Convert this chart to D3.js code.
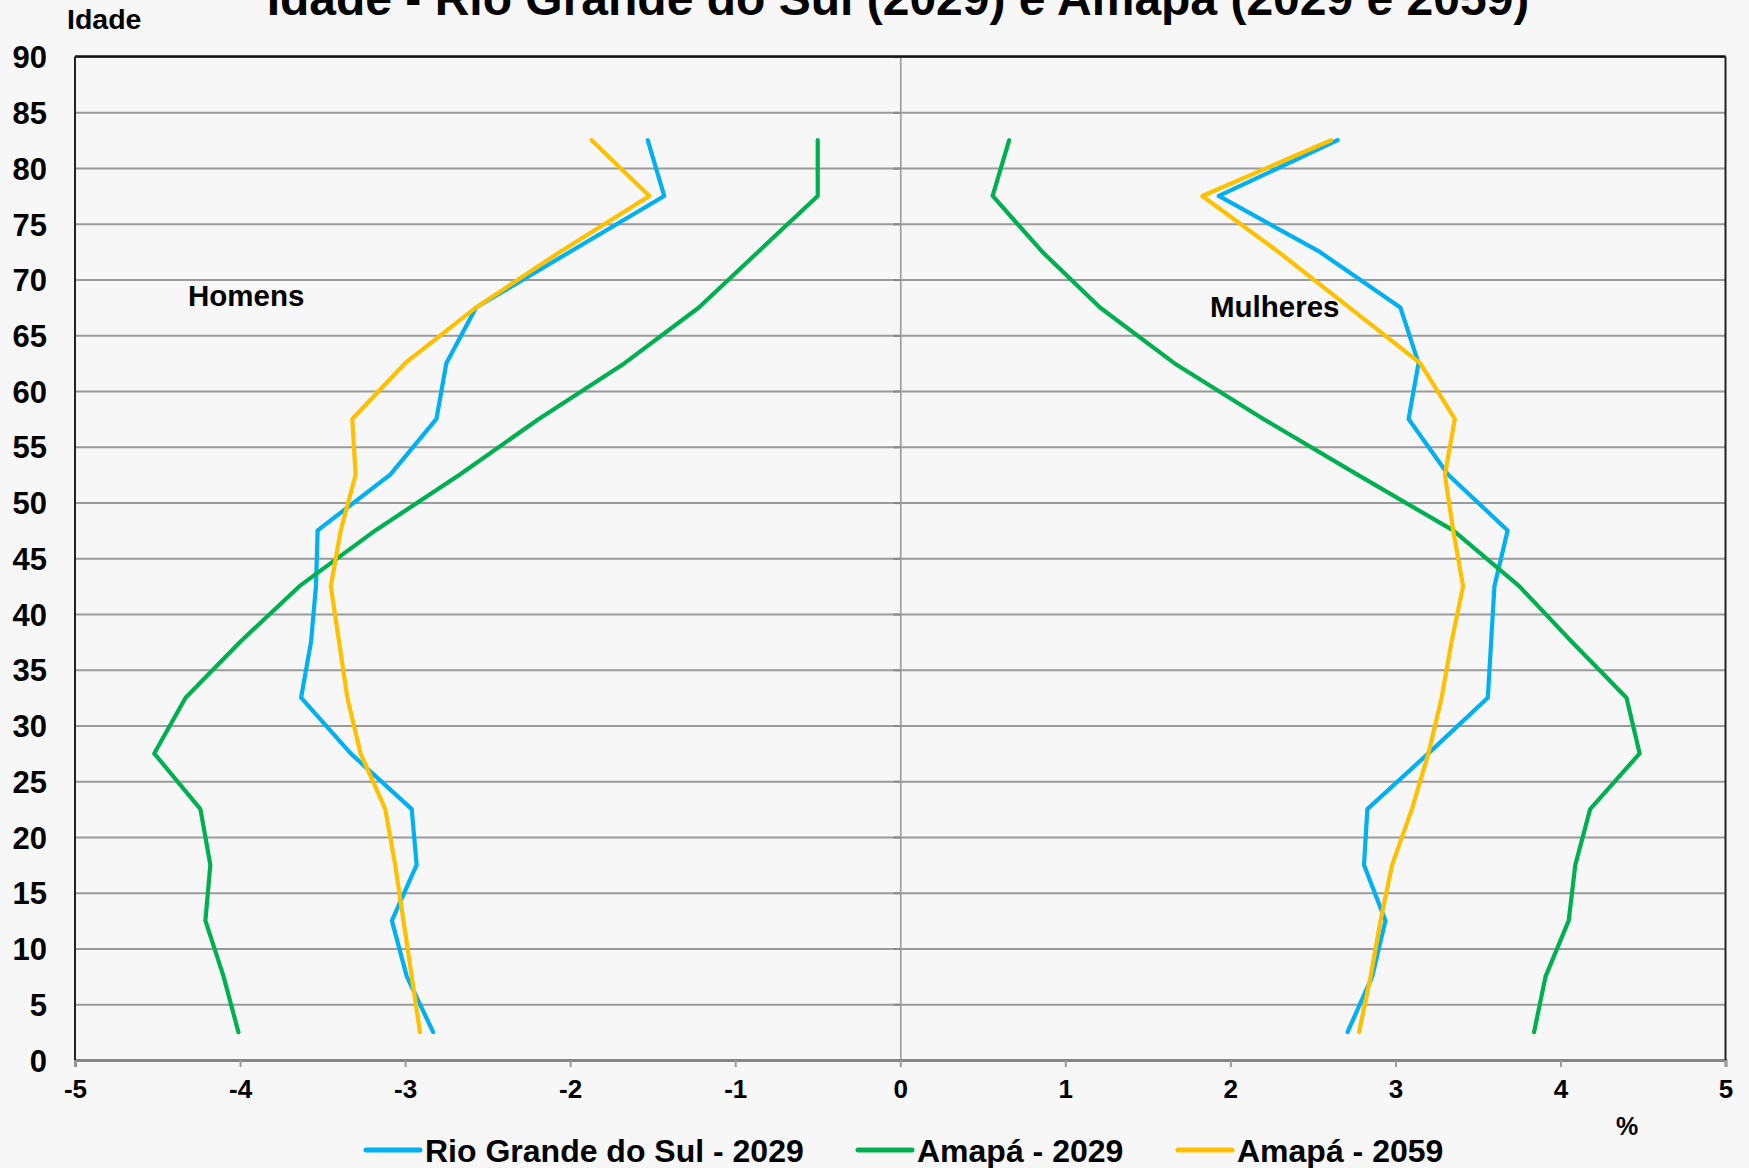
<!DOCTYPE html>
<html lang="pt">
<head>
<meta charset="utf-8">
<script src="https://cdn.jsdelivr.net/npm/d3@7"></script>
<style>
  html, body { margin: 0; padding: 0; background: #f7f7f7; }
  svg { display: block; }
  text { font-family: "Liberation Sans", Arial, sans-serif; font-weight: bold; fill: #000; }
</style>
</head>
<body>
<svg id="chart" width="1749" height="1168"></svg>
<script>
// Age group midpoints (0-4, 5-9, ..., 80+)
const ages = [2.5, 7.5, 12.5, 17.5, 22.5, 27.5, 32.5, 37.5, 42.5, 47.5, 52.5, 57.5, 62.5, 67.5, 72.5, 77.5, 82.5];

// Share of population (%) by age group; men on the negative side
const rsMen2029   = [-2.83, -2.99, -3.08, -2.93, -2.96, -3.33, -3.63, -3.57, -3.54, -3.53, -3.09, -2.81, -2.75, -2.57, -2.00, -1.43, -1.53];
const rsWomen2029 = [2.71, 2.86, 2.94, 2.81, 2.83, 3.20, 3.56, 3.58, 3.60, 3.68, 3.32, 3.08, 3.14, 3.03, 2.54, 1.93, 2.65];
const apMen2029   = [-4.01, -4.10, -4.21, -4.18, -4.24, -4.52, -4.33, -4.00, -3.64, -3.18, -2.67, -2.19, -1.67, -1.22, -0.86, -0.50, -0.50];
const apWomen2029 = [3.84, 3.91, 4.05, 4.09, 4.18, 4.48, 4.40, 4.07, 3.75, 3.35, 2.77, 2.20, 1.66, 1.21, 0.86, 0.56, 0.66];
const apMen2059   = [-2.91, -2.96, -3.01, -3.06, -3.12, -3.27, -3.35, -3.40, -3.45, -3.39, -3.30, -3.32, -3.00, -2.57, -2.06, -1.52, -1.87];
const apWomen2059 = [2.78, 2.85, 2.91, 2.98, 3.10, 3.20, 3.28, 3.34, 3.41, 3.35, 3.30, 3.36, 3.15, 2.72, 2.29, 1.83, 2.61];

const seriesNames = ["Rio Grande do Sul - 2029", "Amapá - 2029", "Amapá - 2059"];
const seriesColors = ["#00B0F0", "#00B050", "#FFC000"];
const xTicks = [-5, -4, -3, -2, -1, 0, 1, 2, 3, 4, 5];
const yTicks = [0, 5, 10, 15, 20, 25, 30, 35, 40, 45, 50, 55, 60, 65, 70, 75, 80, 85, 90];

const titleText = "Idade - Rio Grande do Sul (2029) e Amapá (2029 e 2059)";

const svg = d3.select("#chart");
const W = 1749, H = 1168;
const plotLeft = 75, plotRight = 1725.5, plotTop = 56.6, plotBottom = 1060;

svg.append("rect").attr("width", W).attr("height", H).attr("fill", "#f7f7f7");

const x = d3.scaleLinear().domain([-5, 5]).range([plotLeft, plotRight]);
const y = d3.scaleLinear().domain([0, 90]).range([plotBottom, plotTop]);

// Horizontal gridlines
const grid = svg.append("g")
  .attr("transform", `translate(${plotLeft},0)`)
  .call(d3.axisLeft(y).tickValues(yTicks.slice(1)).tickSize(-(plotRight - plotLeft)).tickFormat(""));
grid.select(".domain").remove();
grid.selectAll("line").attr("stroke", "#9a9a9a").attr("stroke-width", 2);

// Vertical axis at zero with small tick marks
const zeroAxis = svg.append("g")
  .attr("transform", `translate(${x(0)},0)`)
  .call(d3.axisLeft(y).tickValues(yTicks).tickSize(7).tickFormat(""));
zeroAxis.select(".domain").attr("stroke", "#9a9a9a").attr("stroke-width", 1.6);
zeroAxis.selectAll(".tick line").attr("stroke", "#8a8a8a").attr("stroke-width", 2);

// Y tick labels
const yAxis = svg.append("g")
  .attr("transform", `translate(${plotLeft},0)`)
  .call(d3.axisLeft(y).tickValues(yTicks).tickSize(0).tickPadding(28).tickFormat(d => String(d)));
yAxis.select(".domain").remove();
yAxis.selectAll("text")
  .attr("font-size", 31).attr("font-family", "Liberation Sans, Arial, sans-serif")
  .attr("font-weight", "bold").attr("fill", "#000").attr("dy", "0.36em");

// X axis along age 0
const xAxis = svg.append("g")
  .attr("transform", `translate(0,${plotBottom})`)
  .call(d3.axisBottom(x).tickValues(xTicks).tickSize(7).tickPadding(13).tickFormat(d => String(d)));
xAxis.select(".domain").attr("stroke", "#858585").attr("stroke-width", 3);
xAxis.selectAll(".tick line").attr("stroke", "#9a9a9a").attr("stroke-width", 2);
xAxis.selectAll("text")
  .attr("font-size", 26).attr("font-family", "Liberation Sans, Arial, sans-serif")
  .attr("font-weight", "bold").attr("fill", "#000");

// Plot frame: top, left and right borders
svg.append("line").attr("x1", plotLeft).attr("x2", plotRight).attr("y1", plotTop).attr("y2", plotTop)
  .attr("stroke", "#111").attr("stroke-width", 2.5);
svg.append("line").attr("x1", plotLeft).attr("x2", plotLeft).attr("y1", plotTop).attr("y2", plotBottom)
  .attr("stroke", "#222").attr("stroke-width", 2);
svg.append("line").attr("x1", plotRight).attr("x2", plotRight).attr("y1", plotTop).attr("y2", plotBottom)
  .attr("stroke", "#222").attr("stroke-width", 2);

// Population lines
const line = d3.line().x(d => x(d[0])).y(d => y(d[1]));
const series = [
  [rsMen2029, rsWomen2029],
  [apMen2029, apWomen2029],
  [apMen2059, apWomen2059]
];
series.forEach((pair, i) => {
  pair.forEach(vals => {
    svg.append("path")
      .datum(vals.map((v, k) => [v, ages[k]]))
      .attr("d", line)
      .attr("fill", "none")
      .attr("stroke", seriesColors[i])
      .attr("stroke-width", 4.2)
      .attr("stroke-linejoin", "round")
      .attr("stroke-linecap", "round");
  });
});

// Title (first visible line)
svg.append("text").attr("x", 898).attr("y", 15).attr("text-anchor", "middle")
  .attr("font-size", 48).text(titleText);

// Axis captions
svg.append("text").attr("x", 67).attr("y", 29).attr("font-size", 28.5).text("Idade");
svg.append("text").attr("x", 1627).attr("y", 1135).attr("text-anchor", "middle").attr("font-size", 25).text("%");

// Side labels
svg.append("text").attr("x", 188).attr("y", 306).attr("font-size", 29.5).text("Homens");
svg.append("text").attr("x", 1210).attr("y", 317).attr("font-size", 29.5).text("Mulheres");

// Legend
const legendX = [366, 858, 1178];
const legend = svg.append("g");
seriesNames.forEach((name, i) => {
  const g = legend.append("g").attr("transform", `translate(${legendX[i]},1150)`);
  g.append("line").attr("x1", 0).attr("x2", 54).attr("y1", 0).attr("y2", 0)
    .attr("stroke", seriesColors[i]).attr("stroke-width", 5).attr("stroke-linecap", "round");
  g.append("text").attr("x", 59).attr("y", 12).attr("font-size", 32).text(name);
});
</script>
</body>
</html>
